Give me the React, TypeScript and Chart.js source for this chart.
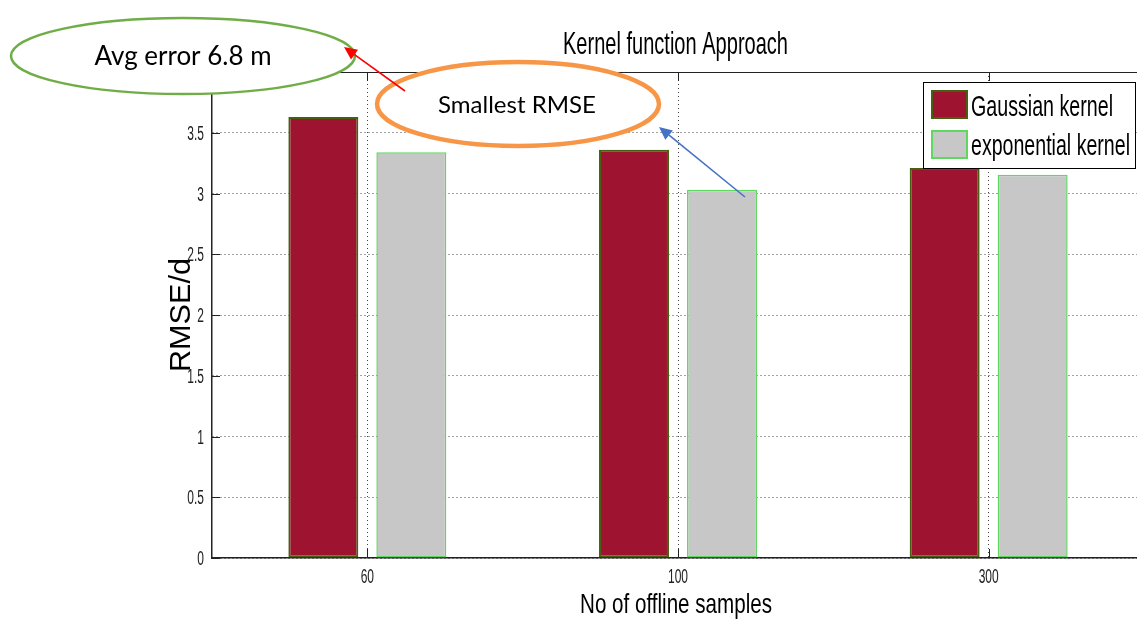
import React, { useEffect, useRef } from 'react';
import { Chart, registerables } from 'chart.js';

Chart.register(...registerables);

// ---- data ----
const categories = ['60', '100', '300'];
const gaussianValues = [3.63, 3.36, 3.21];
const exponentialValues = [3.34, 3.03, 3.155];
const yTickValues = [0, 0.5, 1, 1.5, 2, 2.5, 3, 3.5, 4];
const seriesNames = ['Gaussian kernel', 'exponential kernel'];

const chartTitle = 'Kernel function Approach';
const xTitle = 'No of offline samples';
const yTitle = 'RMSE/d';
const noteAvg = 'Avg error 6.8 m';
const noteSmallest = 'Smallest RMSE';

// ---- styles ----
const RED = '#9E1330';
const RED_EDGE = '#46600F';
const GRAY = '#C7C7C7';
const GRAY_EDGE = '#5FD85F';
const SANS = "'Liberation Sans', Arial, sans-serif";
const CALLOUT = "Lato, 'Open Sans', sans-serif";

function squashText(
  ctx: CanvasRenderingContext2D,
  text: string,
  x: number,
  y: number,
  font: string,
  sx: number,
  align: CanvasTextAlign,
  color: string,
  rotate = 0
) {
  ctx.save();
  ctx.font = font;
  ctx.translate(x, y);
  if (rotate) ctx.rotate(rotate);
  ctx.scale(sx, 1);
  ctx.textAlign = align;
  ctx.textBaseline = 'alphabetic';
  ctx.fillStyle = color;
  ctx.fillText(text, 0, 0);
  ctx.restore();
}

function fitText(
  ctx: CanvasRenderingContext2D,
  text: string,
  x: number,
  y: number,
  font: string,
  targetWidth: number,
  align: CanvasTextAlign,
  color: string,
  rotate = 0
) {
  ctx.save();
  ctx.font = font;
  const w = ctx.measureText(text).width || 1;
  ctx.restore();
  squashText(ctx, text, x, y, font, targetWidth / w, align, color, rotate);
}

function drawArrow(
  ctx: CanvasRenderingContext2D,
  x1: number,
  y1: number,
  x2: number,
  y2: number,
  color: string
) {
  const ang = Math.atan2(y2 - y1, x2 - x1);
  const head = 13;
  const half = 6;
  const bx = x2 - head * Math.cos(ang);
  const by = y2 - head * Math.sin(ang);
  ctx.save();
  ctx.strokeStyle = color;
  ctx.fillStyle = color;
  ctx.lineWidth = 1.6;
  ctx.beginPath();
  ctx.moveTo(x1, y1);
  ctx.lineTo(bx, by);
  ctx.stroke();
  ctx.beginPath();
  ctx.moveTo(x2, y2);
  ctx.lineTo(bx + half * Math.sin(ang), by - half * Math.cos(ang));
  ctx.lineTo(bx - half * Math.sin(ang), by + half * Math.cos(ang));
  ctx.closePath();
  ctx.fill();
  ctx.restore();
}

function ellipse(
  ctx: CanvasRenderingContext2D,
  cx: number,
  cy: number,
  rx: number,
  ry: number,
  stroke: string,
  width: number
) {
  ctx.save();
  ctx.beginPath();
  ctx.ellipse(cx, cy, rx, ry, 0, 0, Math.PI * 2);
  ctx.fillStyle = '#ffffff';
  ctx.fill();
  ctx.lineWidth = width;
  ctx.strokeStyle = stroke;
  ctx.stroke();
  ctx.restore();
}

const fmtTick = (v: number) => (Number.isInteger(v) ? String(v) : v.toFixed(1));

const matlabFrame = {
  id: 'matlabFrame',
  afterDatasetsDraw(chart: any) {
    const { ctx, chartArea } = chart;
    const { left, right, top, bottom } = chartArea;
    const xs = chart.scales.x;
    const ys = chart.scales.y;
    ctx.save();
    ctx.strokeStyle = '#222';
    ctx.lineWidth = 1;
    ctx.beginPath();
    ctx.moveTo(left, top + 0.5);
    ctx.lineTo(right, top + 0.5);
    ctx.stroke();
    // inward tick marks
    ctx.beginPath();
    yTickValues.forEach((v) => {
      const py = Math.round(ys.getPixelForValue(v)) + 0.5;
      ctx.moveTo(left, py);
      ctx.lineTo(left + 8, py);
    });
    categories.forEach((_, i) => {
      const px = Math.round(xs.getPixelForTick(i)) + 0.5;
      ctx.moveTo(px, bottom);
      ctx.lineTo(px, bottom - 9);
      ctx.moveTo(px, top);
      ctx.lineTo(px, top + 9);
    });
    ctx.stroke();
    ctx.restore();
  },
  afterDraw(chart: any) {
    const { ctx, chartArea } = chart;
    const ds = chart.data.datasets;
    const xs = chart.scales.x;
    const ys = chart.scales.y;

    // tick labels (MATLAB-style condensed digits)
    ys.ticks.forEach((t: any) => {
      const py = ys.getPixelForValue(t.value);
      squashText(ctx, fmtTick(t.value), chartArea.left - 8, py + 7, `20px ${SANS}`, 0.6, 'right', '#222');
    });
    categories.forEach((c, i) => {
      squashText(ctx, c, xs.getPixelForTick(i), chartArea.bottom + 25, `20px ${SANS}`, 0.6, 'center', '#222');
    });

    // titles
    fitText(ctx, chartTitle, 675.5, 54, `32px ${SANS}`, 225, 'center', '#000');
    fitText(ctx, xTitle, 676, 613, `28px ${SANS}`, 192, 'center', '#000');
    fitText(ctx, yTitle, 190, 315, `30px ${SANS}`, 114, 'center', '#000', -Math.PI / 2);

    // legend
    ctx.save();
    ctx.fillStyle = '#fff';
    ctx.fillRect(923, 82, 212, 86);
    ctx.strokeStyle = '#000';
    ctx.lineWidth = 1;
    ctx.strokeRect(923.5, 82.5, 212, 86);
    const swatchY = [90, 130];
    const textBase = [116, 155];
    const widths = [142, 159];
    ds.forEach((d: any, i: number) => {
      ctx.fillStyle = d.backgroundColor;
      ctx.fillRect(931, swatchY[i], 37, 29);
      ctx.strokeStyle = d.borderColor;
      ctx.lineWidth = 2;
      ctx.strokeRect(932, swatchY[i] + 1, 35, 27);
      fitText(ctx, d.label, 971, textBase[i], `30px ${SANS}`, widths[i], 'left', '#000');
    });
    ctx.restore();

    // callouts
    ellipse(ctx, 183, 56, 172, 38, '#70AD47', 2.5);
    fitText(ctx, noteAvg, 183, 65, `26px ${CALLOUT}`, 177, 'center', '#000');
    ellipse(ctx, 518, 104, 141, 42, '#F79646', 4.5);
    fitText(ctx, noteSmallest, 517, 113, `23px ${CALLOUT}`, 158, 'center', '#000');
    drawArrow(ctx, 405, 91, 344, 47, '#FF0000');
    drawArrow(ctx, 745, 197, 659, 127, '#4472C4');
  },
};

export default function App() {
  const canvasRef = useRef<HTMLCanvasElement | null>(null);

  useEffect(() => {
    const canvas = canvasRef.current;
    if (!canvas) return;
    const chart = new Chart(canvas, {
      type: 'bar',
      data: {
        labels: categories,
        datasets: [
          {
            label: seriesNames[0],
            data: gaussianValues,
            backgroundColor: RED,
            borderColor: RED_EDGE,
            borderWidth: 2,
            borderSkipped: false,
            categoryPercentage: 0.5665,
            barPercentage: 0.795,
          },
          {
            label: seriesNames[1],
            data: exponentialValues,
            backgroundColor: GRAY,
            borderColor: GRAY_EDGE,
            borderWidth: 1.5,
            borderSkipped: false,
            categoryPercentage: 0.5665,
            barPercentage: 0.795,
          },
        ],
      },
      options: {
        responsive: false,
        animation: false,
        devicePixelRatio: 1,
        layout: { padding: { left: 0, right: 1, top: 72, bottom: 0 } },
        plugins: {
          legend: { display: false },
          title: { display: false },
          tooltip: { enabled: false },
        },
        scales: {
          x: {
            type: 'category',
            offset: true,
            grid: { display: true, offset: false, drawTicks: false, color: '#444', lineWidth: 1 },
            border: { display: true, color: '#222', width: 1.5, dash: [1, 3] },
            ticks: { display: false },
            afterFit: (s: any) => {
              s.height = 64;
            },
          },
          y: {
            min: 0,
            max: 4,
            afterBuildTicks: (s: any) => {
              s.ticks = yTickValues.map((v) => ({ value: v }));
            },
            grid: { display: true, drawTicks: false, color: '#444', lineWidth: 1 },
            border: { display: true, color: '#222', width: 1.5, dash: [1, 3] },
            ticks: { display: false },
            afterFit: (s: any) => {
              s.width = 212;
            },
          },
        },
      },
      plugins: [matlabFrame],
    } as any);
    return () => chart.destroy();
  }, []);

  return (
    <div
      style={{
        position: 'absolute',
        left: 0,
        top: 0,
        width: 1137,
        height: 622,
        overflow: 'hidden',
        background: '#fff',
      }}
    >
      <canvas ref={canvasRef} width={1145} height={622} style={{ display: 'block' }} />
    </div>
  );
}
